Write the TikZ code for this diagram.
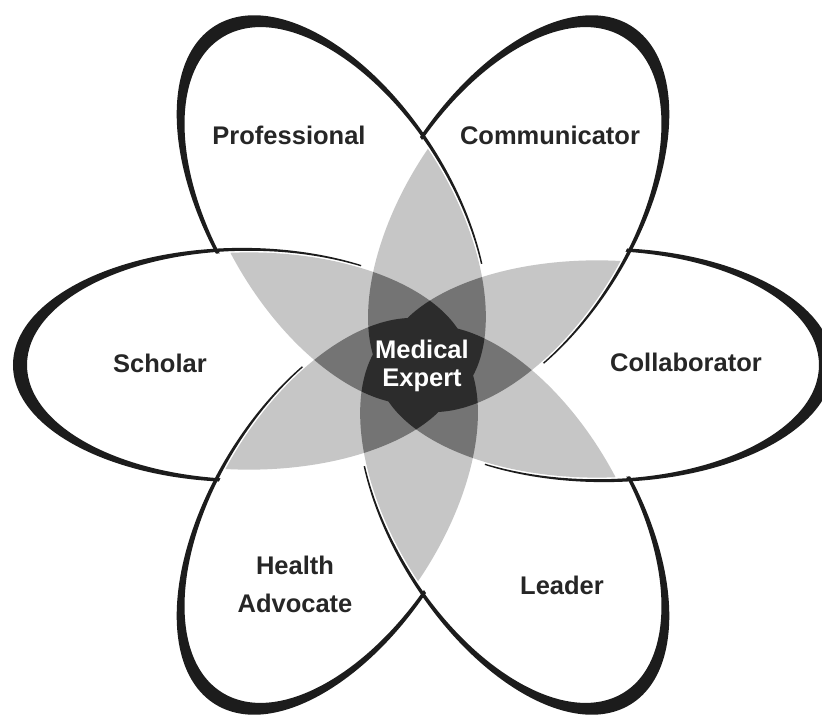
\documentclass[tikz,border=0pt]{standalone}
\usepackage{fontspec}
\setmainfont{Liberation Sans}

\definecolor{petalline}{HTML}{1C1C1C}
\definecolor{lightpetal}{HTML}{C6C6C6}
\definecolor{midpetal}{HTML}{747474}
\definecolor{darkpetal}{HTML}{2C2C2C}
\definecolor{labeltext}{HTML}{262626}

% shaded part where petal #1 runs under petal #1+1
\newcommand{\petalclip}[1]{%
  \clip[rotate={60*(#1+1)}] (174,0) ellipse [x radius=220.3, y radius=117.3];
  \clip[rotate=60*#1] (174,0) ellipse [x radius=212, y radius=109];}

\begin{document}
\begin{tikzpicture}[x=1pt, y=1pt,
    role/.style={font=\fontsize{25.5}{38}\selectfont\bfseries, text=labeltext, align=center},
    core/.style={font=\fontsize{25.5}{28}\selectfont\bfseries, text=white, align=center}]

    \path[fill=white, use as bounding box] (-423,-353) rectangle (399,365);

    \begin{scope}[yscale=0.96]
        % petal outlines, thick at the tip and thin towards the middle
        \foreach \k in {0,...,5}
            \fill[petalline, even odd rule, rotate=60*\k]
                (181,0) ellipse [x radius=229, y radius=122]
                (174,0) ellipse [x radius=222, y radius=119];

        % the lower petal loses its line where it runs under the next one
        \foreach \k in {0,...,5} {
            \begin{scope}
                \clip[rotate={60*(\k+1)}] (174,0) ellipse [x radius=220.3, y radius=117.3];
                \clip[rotate=60*\k] (181,0) ellipse [x radius=231, y radius=124];
                \fill[white] (0,0) circle (300);
            \end{scope}
        }
        % overlaps of neighbouring petals
        \foreach \k in {0,...,5} {
            \begin{scope}
                \petalclip{\k}
                \fill[lightpetal] (0,0) circle (300);
            \end{scope}
        }
        % two overlaps on top of each other
        \foreach \i/\j in {0/1,0/2,0/4,0/5,1/2,1/3,1/5,2/3,2/4,3/4,3/5,4/5} {
            \begin{scope}
                \petalclip{\i}\petalclip{\j}
                \fill[midpetal] (0,0) circle (300);
            \end{scope}
        }
        % all three
        \foreach \i/\j/\k in {0/1/2,0/1/5,0/4/2,0/4/5,3/1/2,3/1/5,3/4/2,3/4/5} {
            \begin{scope}
                \petalclip{\i}\petalclip{\j}\petalclip{\k}
                \fill[darkpetal] (0,0) circle (300);
            \end{scope}
        }
    \end{scope}

    \node[role] (professional) at (-134,230) {Professional};
    \node[role] (communicator) at (127,230) {Communicator};
    \node[role] (scholar) at (-263,2) {Scholar};
    \node[role] (collaborator) at (263,3) {Collaborator};
    \node[role] (advocate) at (-128,-219) {Health\\Advocate};
    \node[role] (leader) at (139,-220) {Leader};
    \node[core] (expert) at (-1,-1) {Medical\\Expert};
\end{tikzpicture}
\end{document}
